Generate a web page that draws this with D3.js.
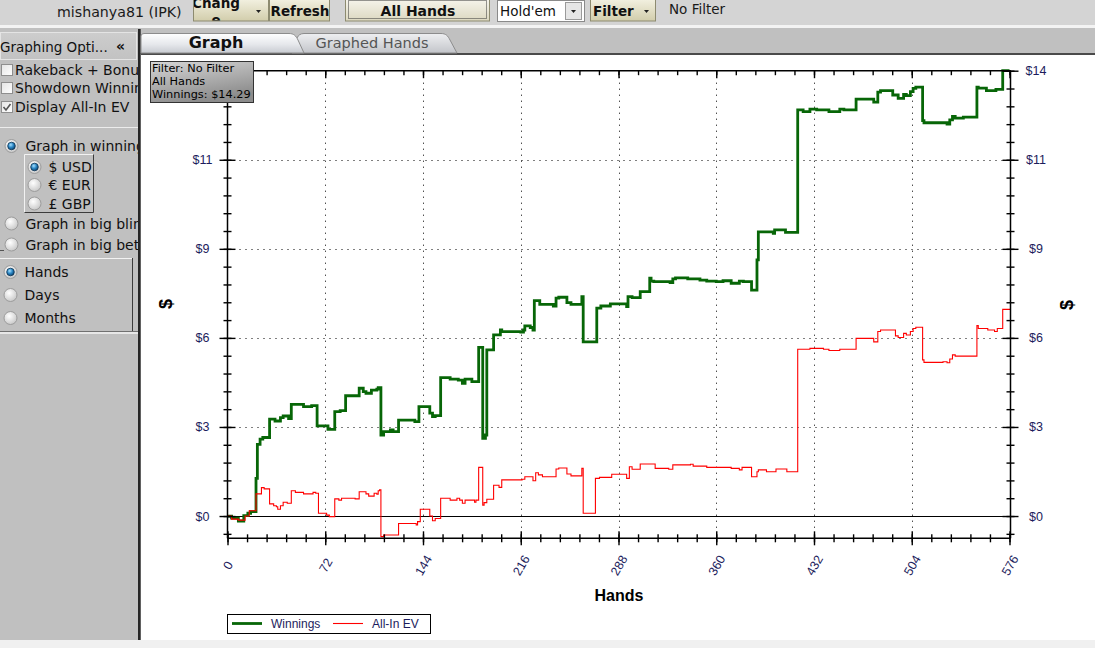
<!DOCTYPE html>
<html><head><meta charset="utf-8">
<script src="https://cdn.jsdelivr.net/npm/d3@7"></script>
<style>html,body{margin:0;padding:0;background:#efefef;overflow:hidden}svg{display:block}</style>
</head><body><svg id="c" width="1095" height="648"></svg>
<script>
// ---------------- DATA ----------------
const seriesNames = ["Winnings", "All-In EV"];
const winHands = [
0,3,8,12,15,17,21,22,24,26,
31,35,39,41,45,47,56,62,66,74,
79,83,87,97,100,102,106,110,111,113,
115,120,122,126,138,141,149,151,153,157,
164,170,173,175,180,185,188,190,191,196,
201,202,216,218,219,223,225,226,230,240,
242,244,250,253,261,262,272,275,282,294,
295,298,304,311,312,314,326,328,330,339,
348,353,360,365,371,377,380,386,390,391,
402,403,411,420,424,429,434,443,451,454,
463,476,479,481,490,494,498,500,503,505,
507,512,513,530,532,534,536,542,552,553,
559,566,571,576];
const winValues = [
0,-0.07,-0.16,0.01,0.09,0.14,1.21,2.30,2.47,2.52,
3.11,3.05,3.16,3.21,3.13,3.58,3.51,3.54,2.89,2.78,
3.35,3.38,3.86,4.10,3.99,3.94,4.04,4.07,4.12,2.60,
2.71,2.76,2.71,3.08,3.03,3.51,3.30,3.19,3.22,4.44,
4.39,4.36,4.26,4.39,4.31,5.41,2.49,2.60,5.33,5.81,
5.97,5.92,5.90,5.97,6.10,6.05,5.97,6.91,6.79,6.74,
6.99,7.02,6.85,6.79,7.04,5.59,6.67,6.74,6.81,6.72,
7.04,7.01,7.20,7.63,7.54,7.52,7.49,7.61,7.64,7.61,
7.57,7.54,7.52,7.55,7.47,7.54,7.52,7.25,8.22,9.12,
9.07,9.18,9.10,13.03,12.98,13.06,13.03,12.98,13.06,13.03,
13.38,13.28,13.60,13.65,13.51,13.40,13.53,13.49,13.62,13.72,
13.76,12.69,12.62,12.58,12.71,12.82,12.77,12.80,13.76,13.73,
13.65,13.69,14.29,14.29];
const evHands = [
0,3,8,13,16,21,25,27,31,34,
36,37,39,41,44,47,50,56,63,65,
67,73,75,79,82,84,94,97,102,104,
108,110,111,112,113,115,126,139,140,142,
149,151,153,157,164,169,171,173,175,182,
183,185,188,189,191,196,200,202,217,219,
225,227,229,232,242,244,250,253,261,262,
271,274,283,294,296,298,304,315,325,328,
341,343,353,371,377,379,386,390,391,397,
404,412,420,429,439,443,451,463,476,479,
481,492,494,498,500,503,505,507,512,513,
527,530,532,534,536,552,553,560,565,567,
571,576];
const evValues = [
0,-0.10,-0.13,0.00,0.17,0.71,0.91,0.87,0.39,0.33,
0.30,0.22,0.33,0.44,0.41,0.81,0.76,0.71,0.76,0.73,
0.09,0.03,-0.02,0.55,0.51,0.57,0.55,0.78,0.71,0.64,
0.73,0.70,0.81,0.84,-0.66,-0.61,-0.24,-0.29,-0.18,0.22,
0.00,-0.15,-0.08,0.57,0.51,0.57,0.51,0.41,0.51,0.44,
0.51,1.56,0.35,0.43,0.54,0.99,0.92,1.16,1.18,1.26,
1.13,1.39,1.32,1.26,1.51,1.54,1.35,1.29,1.53,0.09,
1.21,1.24,1.34,1.21,1.58,1.50,1.67,1.53,1.50,1.64,
1.66,1.60,1.56,1.53,1.48,1.56,1.26,1.42,1.48,1.42,
1.51,1.42,5.35,5.38,5.35,5.31,5.35,5.70,5.59,5.92,
5.97,5.78,5.73,5.86,5.81,5.92,6.02,6.06,5.01,4.93,
4.95,4.92,5.04,5.17,5.13,6.11,6.02,5.97,5.92,6.02,
6.63,6.61];
const handTicks = [0,72,144,216,288,360,432,504,576];
const totalWinnings = 14.29;

// ---------------- DRAW ----------------
const svg = d3.select('#c');
const defs = svg.append('defs');
function lg(id, stops, x2, y2){
  const g = defs.append('linearGradient').attr('id',id).attr('x1',0).attr('y1',0).attr('x2',x2||0).attr('y2',y2===undefined?1:y2);
  stops.forEach(s=>g.append('stop').attr('offset',s[0]).attr('stop-color',s[1]));
}
lg('btn', [[0,'#f6f4e6'],[1,'#d2cdab']]);
lg('btn2', [[0,'#f8f7f0'],[1,'#dcd8c0']]);
lg('tabA', [[0,'#ffffff'],[0.55,'#e6e8ec'],[1,'#c8cbd1']]);
lg('tabB', [[0,'#eeeff1'],[1,'#c3c5ca']]);
lg('tip', [[0,'#d6d6d6'],[1,'#8c8c8c']], 0.4, 1);
lg('chk', [[0,'#e4e4e4'],[1,'#ffffff']], 1, 1);
lg('hdr', [[0,'#cdcdcd'],[1,'#c2c2c2']]);
const rg = defs.append('radialGradient').attr('id','rad').attr('cx','40%').attr('cy','35%').attr('r','70%');
rg.append('stop').attr('offset',0).attr('stop-color','#ffffff');
rg.append('stop').attr('offset',1).attr('stop-color','#c6c6c6');
const rs = defs.append('radialGradient').attr('id','radSel').attr('cx','40%').attr('cy','35%').attr('r','70%');
rs.append('stop').attr('offset',0).attr('stop-color','#a6e0ff');
rs.append('stop').attr('offset',0.5).attr('stop-color','#2a86c4');
rs.append('stop').attr('offset',1).attr('stop-color','#0b3c66');
defs.append('clipPath').attr('id','panelClip').append('rect').attr('x',0).attr('y',29).attr('width',138).attr('height',612);
defs.append('clipPath').attr('id','tbClip').append('rect').attr('x',0).attr('y',0).attr('width',1095).attr('height',25);

const UI = 'DejaVu Sans, Verdana, sans-serif';
const CH = 'Liberation Sans, Arial, sans-serif';

// toolbar
svg.append('rect').attr('x',0).attr('y',0).attr('width',1095).attr('height',26).attr('fill','#d4d4d4');
svg.append('rect').attr('x',0).attr('y',25).attr('width',1095).attr('height',3).attr('fill','#f3f3f3');
svg.append('rect').attr('x',0).attr('y',28).attr('width',1095).attr('height',26).attr('fill','#c0c0c0');
const tb = svg.append('g').attr('clip-path','url(#tbClip)').attr('font-family',UI);
tb.append('text').attr('x',57).attr('y',16.5).attr('font-size',14.2).attr('fill','#1a1a1a').text('mishanya81 (IPK)');
function button(x0,x1,fill){
  tb.append('rect').attr('x',x0+0.5).attr('y',-3).attr('width',x1-x0-1).attr('height',24).attr('fill',fill).attr('stroke','#8d8b70');
}
button(193,269,'url(#btn)');
defs.append('clipPath').attr('id','chClip').append('rect').attr('x',194).attr('y',0).attr('width',74).attr('height',20.5);
const chg = tb.append('g').attr('clip-path','url(#chClip)');
chg.append('text').attr('x',216).attr('y',7.5).attr('text-anchor','middle').attr('font-size',13.5).attr('font-weight','bold').attr('fill','#111').text('Chang');
chg.append('text').attr('x',216).attr('y',25).attr('text-anchor','middle').attr('font-size',13.5).attr('font-weight','bold').attr('fill','#111').text('e');
tb.append('path').attr('d','M256,10 h5 l-2.5,3 z').attr('fill','#222');
button(269,330,'url(#btn)');
tb.append('text').attr('x',300).attr('y',15.5).attr('text-anchor','middle').attr('font-size',13.5).attr('font-weight','bold').attr('fill','#111').text('Refresh');
button(345,490,'url(#btn2)');
tb.append('rect').attr('x',348.5).attr('y',0.5).attr('width',138).attr('height',18).attr('fill','none').attr('stroke','#333').attr('stroke-dasharray','1,1');
tb.append('text').attr('x',418).attr('y',15.5).attr('text-anchor','middle').attr('font-size',14).attr('font-weight','bold').attr('fill','#111').text('All Hands');
tb.append('rect').attr('x',497.5).attr('y',0.5).attr('width',87).attr('height',21).attr('fill','#fff').attr('stroke','#8a8a8a');
tb.append('text').attr('x',500).attr('y',16).attr('font-size',13.5).attr('fill','#111').text("Hold'em");
tb.append('rect').attr('x',565.5).attr('y',2.5).attr('width',16).attr('height',17).attr('fill','#e6e6e6').attr('stroke','#9a9a9a');
tb.append('path').attr('d','M571,10 h5 l-2.5,3 z').attr('fill','#222');
button(590,656,'url(#btn)');
tb.append('text').attr('x',593).attr('y',15.5).attr('font-size',13.5).attr('font-weight','bold').attr('fill','#111').text('Filter');
tb.append('path').attr('d','M644,10 h5 l-2.5,3 z').attr('fill','#222');
tb.append('text').attr('x',669).attr('y',13.5).attr('font-size',13.5).attr('fill','#1a1a1a').text('No Filter');

// left panel
const pn = svg.append('g').attr('clip-path','url(#panelClip)').attr('font-family',UI).attr('font-size',14).attr('fill','#111');
pn.append('rect').attr('x',0).attr('y',29).attr('width',138).attr('height',612).attr('fill','#c0c0c0');
pn.append('rect').attr('x',0.5).attr('y',32.5).attr('width',136).attr('height',27).attr('fill','url(#hdr)').attr('stroke','#e4e4e4');
pn.append('text').attr('x',0).attr('y',52).attr('font-size',13.5).text('Graphing Opti...');
pn.append('text').attr('x',116).attr('y',51).attr('font-weight','bold').text('«');
function checkbox(cy, label, checked){
  pn.append('rect').attr('x',1.5).attr('y',cy-5.5).attr('width',11).attr('height',11).attr('fill','url(#chk)').attr('stroke','#8e8e8e');
  if(checked) pn.append('path').attr('d',`M3.5,${cy} l2.5,3 l4.5,-6`).attr('fill','none').attr('stroke','#555').attr('stroke-width',1.6);
  pn.append('text').attr('x',15).attr('y',cy+5).text(label);
}
checkbox(70,'Rakeback + Bonus',false);
checkbox(88,'Showdown Winnings',false);
checkbox(107,'Display All-In EV',true);
pn.append('line').attr('x1',0).attr('x2',138).attr('y1',127.5).attr('y2',127.5).attr('stroke','#ececec');
function radio(cx, cy, label, tx, sel){
  pn.append('circle').attr('cx',cx).attr('cy',cy).attr('r',6.5).attr('fill','url(#rad)').attr('stroke','#9c9c9c');
  if(sel) pn.append('circle').attr('cx',cx).attr('cy',cy).attr('r',3.8).attr('fill','url(#radSel)').attr('stroke','#0d3556').attr('stroke-width',0.8);
  pn.append('text').attr('x',tx).attr('y',cy+5).text(label);
}
radio(11.5,146,'Graph in winnings',25.5,true);
pn.append('path').attr('d','M24.5,212.5 V154.5 H93.5').attr('fill','none').attr('stroke','#f2f2f2');
pn.append('path').attr('d','M93.5,154.5 V212.5 H24.5').attr('fill','none').attr('stroke','#3c3c3c');
radio(34.5,167,'$ USD',48.5,true);
radio(34.5,185,'€ EUR',48.5,false);
radio(34.5,203.5,'£ GBP',48.5,false);
radio(11.5,223.5,'Graph in big blinds',25.5,false);
radio(11.5,244.5,'Graph in big bets',25.5,false);
pn.append('line').attr('x1',0).attr('x2',4).attr('y1',250.5).attr('y2',250.5).attr('stroke','#555');
pn.append('line').attr('x1',0).attr('x2',133).attr('y1',258.5).attr('y2',258.5).attr('stroke','#f2f2f2');
pn.append('line').attr('x1',132.5).attr('x2',132.5).attr('y1',258).attr('y2',331).attr('stroke','#3c3c3c');
pn.append('line').attr('x1',0).attr('x2',138).attr('y1',331.5).attr('y2',331.5).attr('stroke','#707070');
pn.append('line').attr('x1',0).attr('x2',138).attr('y1',333).attr('y2',333).attr('stroke','#f4f4f4').attr('stroke-width',1.5);
radio(10.5,272,'Hands',24.5,true);
radio(10.5,295,'Days',24.5,false);
radio(10.5,318,'Months',24.5,false);

// chart area frame
svg.append('rect').attr('x',141).attr('y',55).attr('width',954).attr('height',585).attr('fill','#ffffff');
svg.append('rect').attr('x',138).attr('y',29).attr('width',2.7).attr('height',612).attr('fill','#262626');
svg.append('rect').attr('x',0).attr('y',640).attr('width',1095).attr('height',8).attr('fill','#f0f0f0');
svg.append('rect').attr('x',141).attr('y',53).attr('width',954).attr('height',2).attr('fill','#4a4a4a');
// tabs
svg.append('path').attr('d','M292,53 L297,38 Q299,33.5 304,33.5 H441 C446,33.5 448,36 450,40 L457,53 Z').attr('fill','url(#tabB)').attr('stroke','#8c8c8c');
svg.append('path').attr('d','M141,53 V36 Q141,33.5 144,33.5 H289 C294,33.5 296,36 298,40 L304,53 Z').attr('fill','url(#tabA)').attr('stroke','#8c8c8c');
svg.append('text').attr('x',216).attr('y',48).attr('text-anchor','middle').attr('font-family',UI).attr('font-size',16).attr('font-weight','bold').attr('fill','#111').text('Graph');
svg.append('text').attr('x',372).attr('y',48).attr('text-anchor','middle').attr('font-family',UI).attr('font-size',14.5).attr('fill','#555').text('Graphed Hands');

// ---- chart ----
const yMax = d3.max(winValues);
const yStep = yMax / 5;
const yMin = -yStep / 4;
const x = d3.scaleLinear().domain([0, 576]).range([227.5, 1009.5]);
const y = d3.scaleLinear().domain([yMin, yMax]).range([538.3, 70.7]);
const xR = 1010.5;
const majorY = d3.range(0, 6).map(i => i * yStep);
const minorY = d3.range(-1, 26).map(i => i * yStep / 5);
const minorX = d3.range(0, 41).map(i => i * 14.4);
const ch = svg.append('g');

// grid
ch.append('g').selectAll('line').data(handTicks.slice(1)).join('line')
  .attr('x1',d=>Math.round(x(d))+0.5).attr('x2',d=>Math.round(x(d))+0.5).attr('y1',y(yMax)).attr('y2',y(yMin))
  .attr('stroke','#000').attr('stroke-dasharray','1,5');
ch.append('g').selectAll('line').data(majorY.slice(1,5)).join('line')
  .attr('y1',d=>Math.round(y(d))+0.5).attr('y2',d=>Math.round(y(d))+0.5).attr('x1',x(0)).attr('x2',xR)
  .attr('stroke','#000').attr('stroke-dasharray','1,5');
ch.append('line').attr('x1',x(0)).attr('x2',xR).attr('y1',Math.round(y(0))+0.5).attr('y2',Math.round(y(0))+0.5).attr('stroke','#000').attr('stroke-width',1.2);

// series
const line = d3.line().curve(d3.curveStepAfter).x(d=>x(d[0])).y(d=>y(d[1]));
const winData = winHands.map((h,i)=>[h, winValues[i]]);
const evData = evHands.map((h,i)=>[h, evValues[i]]);
ch.append('path').datum(winData).attr('d',line).attr('fill','none').attr('stroke','#076607').attr('stroke-width',2.8);
ch.append('path').datum(evData).attr('d',line).attr('fill','none').attr('stroke','#ff0000').attr('stroke-width',1.1);

// axes
function styleAxis(g){ g.attr('font-family',CH).attr('font-size',12.5); g.select('.domain').remove(); g.selectAll('.tick line').attr('stroke','#000').attr('stroke-width',1.4); g.selectAll('text').attr('fill','#1c1c5c'); return g; }
// bottom
styleAxis(ch.append('g').attr('transform',`translate(0,${y(yMin)})`).call(d3.axisBottom(x).tickValues(minorX).tickSize(4).tickSizeOuter(0).tickFormat('')))
  .selectAll('.tick line').attr('y1',-4);
const bMaj = styleAxis(ch.append('g').attr('transform',`translate(0,${y(yMin)})`).call(d3.axisBottom(x).tickValues(handTicks).tickSize(7).tickSizeOuter(0).tickFormat(d=>d)));
bMaj.selectAll('.tick line').attr('y1',-7);
bMaj.selectAll('text').attr('x',0).attr('y',0).attr('dy','0.35em').attr('text-anchor','middle').attr('transform','translate(0,27) rotate(-60)');
// top
styleAxis(ch.append('g').attr('transform',`translate(0,${y(yMax)})`).call(d3.axisTop(x).tickValues(minorX).tickSize(-4.5).tickSizeOuter(0).tickFormat('')));
styleAxis(ch.append('g').attr('transform',`translate(0,${y(yMax)})`).call(d3.axisTop(x).tickValues(handTicks).tickSize(-7.5).tickSizeOuter(0).tickFormat('')));
// left (top label hidden beneath the info box in the original)
styleAxis(ch.append('g').attr('transform',`translate(${x(0)},0)`).call(d3.axisLeft(y).tickValues(minorY).tickSize(4).tickSizeOuter(0).tickFormat('')))
  .selectAll('.tick line').attr('x1',4);
const lMaj = styleAxis(ch.append('g').attr('transform',`translate(${x(0)},0)`).call(d3.axisLeft(y).tickValues(majorY).tickSize(8).tickSizeOuter(0).tickFormat((d,i)=> i < 5 ? '$'+Math.round(d) : '')));
lMaj.selectAll('.tick line').attr('x1',8);
lMaj.selectAll('text').attr('x',-25).attr('text-anchor','middle');
// right
styleAxis(ch.append('g').attr('transform',`translate(${xR},0)`).call(d3.axisRight(y).tickValues(minorY).tickSize(4).tickSizeOuter(0).tickFormat('')))
  .selectAll('.tick line').attr('x1',-4);
const rMaj = styleAxis(ch.append('g').attr('transform',`translate(${xR},0)`).call(d3.axisRight(y).tickValues(majorY).tickSize(8).tickSizeOuter(0).tickFormat(d=>'$'+Math.round(d))));
rMaj.selectAll('.tick line').attr('x1',-8);
rMaj.selectAll('text').attr('x',25.5).attr('text-anchor','middle');
// frame lines
const fr = ch.append('g').attr('stroke','#000').attr('stroke-width',1.5);
fr.append('line').attr('x1',x(0)).attr('x2',x(0)).attr('y1',y(yMax)).attr('y2',y(yMin));
fr.append('line').attr('x1',xR).attr('x2',xR).attr('y1',y(yMax)).attr('y2',y(yMin));
fr.append('line').attr('x1',x(0)).attr('x2',xR).attr('y1',y(yMax)).attr('y2',y(yMax));
fr.append('line').attr('x1',x(0)).attr('x2',xR).attr('y1',y(yMin)).attr('y2',y(yMin));

// titles
ch.append('text').attr('x',619).attr('y',601).attr('text-anchor','middle').attr('font-family',CH).attr('font-size',16).attr('font-weight','bold').attr('fill','#000').text('Hands');
ch.append('text').attr('transform','translate(172,304) rotate(-90)').attr('text-anchor','middle').attr('font-family',CH).attr('font-size',18).attr('font-weight','bold').attr('fill','#000').text('$');
ch.append('text').attr('transform','translate(1073,305) rotate(-90)').attr('text-anchor','middle').attr('font-family',CH).attr('font-size',18).attr('font-weight','bold').attr('fill','#000').text('$');

// legend
const lgG = ch.append('g').attr('font-family',CH).attr('font-size',12);
lgG.append('rect').attr('x',227.5).attr('y',614.5).attr('width',203).attr('height',19).attr('fill','#fff').attr('stroke','#000');
lgG.append('line').attr('x1',232).attr('x2',262).attr('y1',623.5).attr('y2',623.5).attr('stroke','#076607').attr('stroke-width',2.8);
lgG.append('text').attr('x',271).attr('y',628).attr('fill','#1c1c5c').text(seriesNames[0]);
lgG.append('line').attr('x1',333).attr('x2',363).attr('y1',623.5).attr('y2',623.5).attr('stroke','#ff0000').attr('stroke-width',1.1);
lgG.append('text').attr('x',372).attr('y',628).attr('fill','#1c1c5c').text(seriesNames[1]);

// info box
const tip = svg.append('g').attr('font-family',UI).attr('font-size',11.3).attr('fill','#000');
tip.append('rect').attr('x',150.5).attr('y',61.5).attr('width',103).attr('height',41).attr('fill','url(#tip)').attr('stroke','#333');
tip.append('text').attr('x',152).attr('y',72).text('Filter: No Filter');
tip.append('text').attr('x',152).attr('y',85).text('All Hands');
tip.append('text').attr('x',152).attr('y',98).text('Winnings: $' + totalWinnings.toFixed(2));
</script>
</body></html>
